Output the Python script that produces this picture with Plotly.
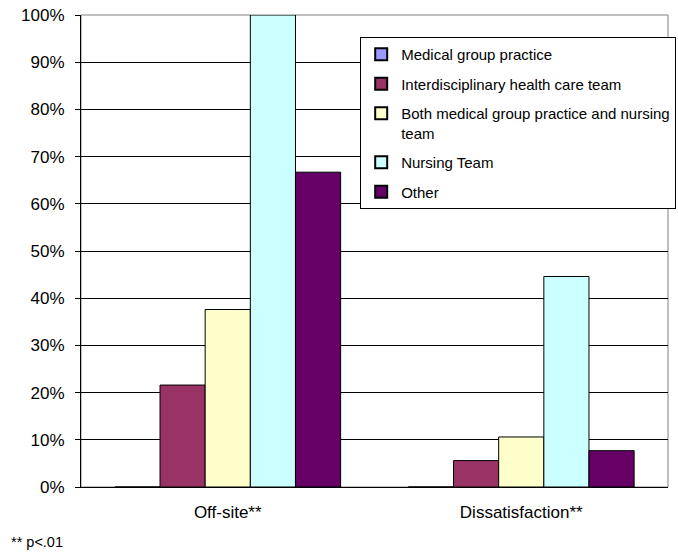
import plotly.graph_objects as go

# Survey outcome by team type (percent of respondents)
categories = ["Off-site**", "Dissatisfaction**"]
series_names = [
    "Medical group practice",
    "Interdisciplinary health care team",
    "Both medical group practice and nursing<br>team",
    "Nursing Team",
    "Other",
]
series_values = [
    [0.0, 0.0],
    [21.6, 5.6],
    [37.6, 10.6],
    [100.0, 44.6],
    [66.7, 7.7],
]
y_ticks = [0, 10, 20, 30, 40, 50, 60, 70, 80, 90, 100]
y_tick_labels = [f"{v}%" for v in y_ticks]
footnote = "** p<.01"

colors = ["#9999FF", "#993366", "#FFFFCC", "#CCFFFF", "#660066"]
FONT = "Liberation Sans, Arial, Helvetica, sans-serif"

fig = go.Figure()
for i, (name, vals) in enumerate(zip(series_names, series_values)):
    fig.add_trace(go.Bar(
        x=categories,
        y=vals,
        name=name,
        legendgroup=f"g{i}",
        marker=dict(color=colors[i], line=dict(color="#000000", width=1)),
    ))

# plot-area frame (top/right edges in grey)
fig.add_shape(type="rect", xref="paper", yref="paper", x0=0, y0=0, x1=1, y1=1,
              line=dict(color="#808080", width=1), layer="below")

fig.add_annotation(text=footnote, xref="paper", yref="paper",
                   x=-81 / 595 + 8 / 595, y=-(541.7 - 487) / 472,
                   xanchor="left", yanchor="middle", showarrow=False,
                   font=dict(family=FONT, size=14.5, color="#000000"))

fig.update_layout(
    width=678, height=555,
    margin=dict(l=81, r=2, t=15, b=68),
    paper_bgcolor="#FFFFFF", plot_bgcolor="#FFFFFF",
    barmode="group", bargap=0.2308, bargroupgap=0,
    font=dict(family=FONT, size=17, color="#000000"),
    showlegend=True,
    legend=dict(
        x=(364 - 81) / 595, y=(487 - 37) / 472, xanchor="left", yanchor="top",
        bgcolor="#FFFFFF", bordercolor="#000000", borderwidth=1,
        font=dict(family=FONT, size=15, color="#000000"),
        tracegroupgap=7, valign="top", traceorder="grouped",
        itemsizing="constant",
    ),
    xaxis=dict(
        showline=True, linecolor="#000000", linewidth=1,
        ticks="", showgrid=False, ticklabelstandoff=10,
        tickfont=dict(size=17),
    ),
    yaxis=dict(
        range=[0, 100], tickvals=y_ticks, ticktext=y_tick_labels,
        showline=True, linecolor="#000000", linewidth=1,
        ticks="outside", ticklen=5, tickcolor="#000000",
        showgrid=True, gridcolor="#000000", gridwidth=1,
        zeroline=False, ticklabelstandoff=7,
        tickfont=dict(size=17),
    ),
)

fig.write_html("out.html")
